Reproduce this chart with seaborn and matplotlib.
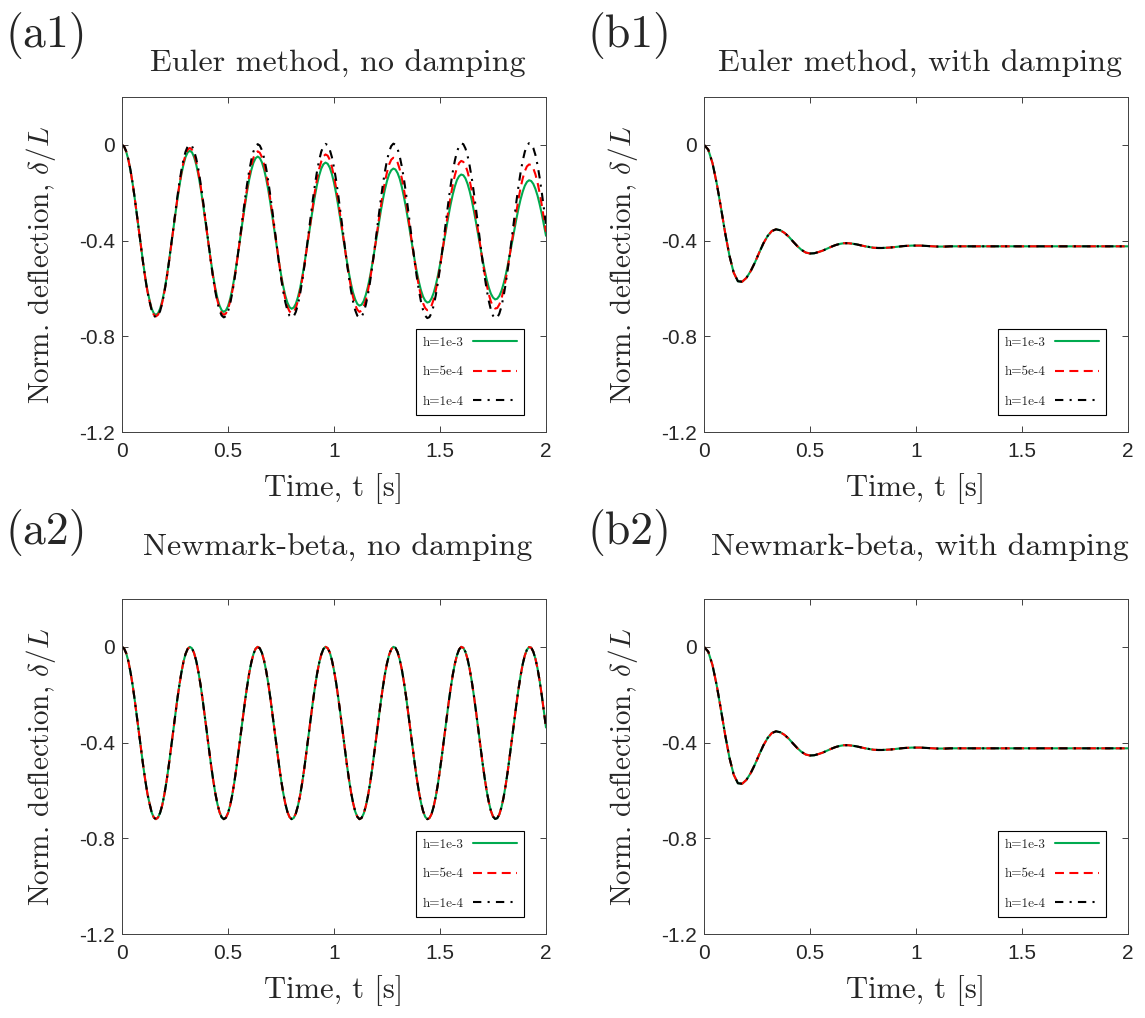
import numpy as np
import pandas as pd
import matplotlib
matplotlib.use("Agg")
import matplotlib.pyplot as plt
import seaborn as sns

# ---------------- data ----------------
time_fine = np.linspace(0.0, 2.0, 201)     # 0.01 s sampling for the oscillating runs
time_coarse = np.linspace(0.0, 2.0, 101)   # 0.02 s sampling for the damped runs

series_labels = ["h=1e-3", "h=5e-4", "h=1e-4"]
series_colors = ["#00AA4F", "#FF0000", "#000000"]

# Euler method, no damping
euler_h1e3 = [0.000, -0.008, -0.029, -0.062, -0.107, -0.161, -0.223, -0.290, -0.359, -0.428,
              -0.495, -0.555, -0.609, -0.649, -0.685, -0.704, -0.711, -0.704, -0.684, -0.652,
              -0.609, -0.557, -0.497, -0.433, -0.366, -0.299, -0.235, -0.176, -0.124, -0.082,
              -0.050, -0.031, -0.025, -0.031, -0.051, -0.082, -0.124, -0.175, -0.233, -0.296,
              -0.362, -0.427, -0.490, -0.548, -0.599, -0.641, -0.672, -0.691, -0.698, -0.692,
              -0.674, -0.644, -0.604, -0.555, -0.499, -0.438, -0.375, -0.311, -0.251, -0.194,
              -0.145, -0.105, -0.075, -0.056, -0.049, -0.055, -0.073, -0.102, -0.141, -0.189,
              -0.244, -0.303, -0.365, -0.427, -0.486, -0.541, -0.589, -0.629, -0.659, -0.678,
              -0.685, -0.680, -0.664, -0.636, -0.599, -0.553, -0.500, -0.443, -0.383, -0.324,
              -0.266, -0.213, -0.166, -0.128, -0.099, -0.081, -0.074, -0.079, -0.095, -0.122,
              -0.158, -0.203, -0.254, -0.310, -0.368, -0.426, -0.482, -0.534, -0.580, -0.618,
              -0.646, -0.665, -0.672, -0.668, -0.653, -0.627, -0.593, -0.550, -0.501, -0.447,
              -0.392, -0.335, -0.281, -0.231, -0.187, -0.151, -0.123, -0.106, -0.099, -0.103,
              -0.118, -0.142, -0.176, -0.218, -0.265, -0.317, -0.372, -0.426, -0.479, -0.528,
              -0.571, -0.607, -0.634, -0.651, -0.659, -0.656, -0.642, -0.619, -0.587, -0.547,
              -0.501, -0.451, -0.399, -0.347, -0.296, -0.249, -0.208, -0.174, -0.147, -0.131,
              -0.124, -0.127, -0.140, -0.163, -0.194, -0.232, -0.277, -0.325, -0.376, -0.427,
              -0.476, -0.522, -0.562, -0.596, -0.622, -0.638, -0.646, -0.643, -0.631, -0.610,
              -0.580, -0.544, -0.501, -0.455, -0.407, -0.358, -0.311, -0.267, -0.228, -0.196,
              -0.171, -0.155, -0.148, -0.151, -0.163, -0.184, -0.212, -0.248, -0.288, -0.333,
              -0.380]

euler_h5e4 = [0.000, -0.007, -0.028, -0.062, -0.106, -0.161, -0.223, -0.290, -0.360, -0.430,
              -0.497, -0.558, -0.613, -0.653, -0.690, -0.710, -0.717, -0.710, -0.690, -0.658,
              -0.614, -0.561, -0.500, -0.434, -0.366, -0.297, -0.231, -0.170, -0.117, -0.073,
              -0.041, -0.020, -0.013, -0.020, -0.040, -0.071, -0.115, -0.167, -0.227, -0.292,
              -0.360, -0.428, -0.493, -0.554, -0.606, -0.650, -0.683, -0.703, -0.710, -0.705,
              -0.686, -0.655, -0.613, -0.562, -0.502, -0.439, -0.372, -0.306, -0.241, -0.182,
              -0.130, -0.087, -0.054, -0.034, -0.027, -0.033, -0.051, -0.081, -0.123, -0.173,
              -0.231, -0.295, -0.360, -0.426, -0.490, -0.549, -0.600, -0.643, -0.676, -0.696,
              -0.704, -0.699, -0.681, -0.652, -0.611, -0.562, -0.506, -0.443, -0.379, -0.314,
              -0.252, -0.194, -0.143, -0.100, -0.069, -0.048, -0.040, -0.045, -0.062, -0.092,
              -0.132, -0.180, -0.236, -0.297, -0.360, -0.425, -0.487, -0.544, -0.595, -0.637,
              -0.669, -0.689, -0.698, -0.693, -0.676, -0.649, -0.610, -0.563, -0.508, -0.448,
              -0.386, -0.322, -0.262, -0.205, -0.155, -0.114, -0.082, -0.062, -0.054, -0.058,
              -0.074, -0.102, -0.140, -0.187, -0.240, -0.300, -0.362, -0.424, -0.484, -0.540,
              -0.589, -0.631, -0.662, -0.682, -0.691, -0.688, -0.672, -0.646, -0.608, -0.563,
              -0.510, -0.452, -0.392, -0.331, -0.271, -0.217, -0.168, -0.127, -0.097, -0.076,
              -0.067, -0.071, -0.086, -0.112, -0.149, -0.193, -0.245, -0.302, -0.362, -0.423,
              -0.481, -0.535, -0.584, -0.624, -0.655, -0.675, -0.684, -0.682, -0.667, -0.642,
              -0.607, -0.563, -0.512, -0.456, -0.398, -0.339, -0.281, -0.228, -0.180, -0.141,
              -0.110, -0.090, -0.082, -0.084, -0.098, -0.123, -0.157, -0.201, -0.251, -0.306,
              -0.363]

euler_h1e4 = [0.000, -0.007, -0.027, -0.060, -0.105, -0.159, -0.222, -0.289, -0.359, -0.429,
              -0.497, -0.559, -0.614, -0.655, -0.692, -0.713, -0.721, -0.714, -0.694, -0.661,
              -0.616, -0.562, -0.500, -0.433, -0.363, -0.292, -0.224, -0.162, -0.107, -0.061,
              -0.028, -0.006, 0.001, -0.005, -0.025, -0.057, -0.101, -0.156, -0.218, -0.285,
              -0.355, -0.426, -0.494, -0.557, -0.612, -0.658, -0.692, -0.713, -0.721, -0.716,
              -0.696, -0.664, -0.620, -0.566, -0.504, -0.436, -0.366, -0.296, -0.227, -0.164,
              -0.108, -0.063, -0.028, -0.006, 0.003, -0.003, -0.022, -0.054, -0.098, -0.152,
              -0.214, -0.281, -0.352, -0.422, -0.491, -0.554, -0.610, -0.656, -0.691, -0.714,
              -0.722, -0.717, -0.698, -0.667, -0.623, -0.569, -0.508, -0.440, -0.370, -0.299,
              -0.230, -0.167, -0.110, -0.064, -0.028, -0.006, 0.004, -0.001, -0.020, -0.051,
              -0.095, -0.148, -0.210, -0.277, -0.347, -0.419, -0.488, -0.551, -0.608, -0.655,
              -0.691, -0.714, -0.723, -0.719, -0.700, -0.669, -0.626, -0.573, -0.511, -0.444,
              -0.373, -0.302, -0.233, -0.169, -0.112, -0.065, -0.028, -0.005, 0.005, 0.001,
              -0.017, -0.048, -0.091, -0.144, -0.205, -0.273, -0.344, -0.415, -0.484, -0.549,
              -0.606, -0.654, -0.690, -0.714, -0.724, -0.720, -0.703, -0.672, -0.629, -0.576,
              -0.515, -0.447, -0.377, -0.305, -0.236, -0.171, -0.114, -0.066, -0.029, -0.005,
              0.006, 0.003, -0.015, -0.045, -0.088, -0.140, -0.202, -0.269, -0.340, -0.411,
              -0.481, -0.546, -0.604, -0.652, -0.689, -0.714, -0.725, -0.722, -0.705, -0.675,
              -0.632, -0.580, -0.518, -0.451, -0.380, -0.309, -0.239, -0.174, -0.116, -0.067,
              -0.029, -0.004, 0.007, 0.004, -0.013, -0.042, -0.084, -0.137, -0.198, -0.265,
              -0.336]

# Newmark-beta, no damping: the three step sizes coincide
newmark_values = [0.000, -0.007, -0.027, -0.060, -0.105, -0.159, -0.222, -0.289, -0.359, -0.429,
                  -0.497, -0.559, -0.614, -0.655, -0.692, -0.713, -0.720, -0.713, -0.693, -0.661,
                  -0.616, -0.562, -0.500, -0.433, -0.363, -0.293, -0.225, -0.163, -0.108, -0.062,
                  -0.029, -0.008, 0.000, -0.006, -0.026, -0.058, -0.103, -0.156, -0.218, -0.285,
                  -0.355, -0.426, -0.493, -0.556, -0.611, -0.656, -0.691, -0.712, -0.720, -0.714,
                  -0.695, -0.663, -0.619, -0.565, -0.503, -0.436, -0.366, -0.296, -0.228, -0.166,
                  -0.110, -0.065, -0.030, -0.008, 0.000, -0.006, -0.025, -0.057, -0.100, -0.153,
                  -0.215, -0.282, -0.352, -0.422, -0.490, -0.553, -0.608, -0.654, -0.689, -0.711,
                  -0.720, -0.715, -0.696, -0.664, -0.621, -0.568, -0.507, -0.440, -0.370, -0.300,
                  -0.232, -0.169, -0.113, -0.067, -0.032, -0.009, 0.000, -0.005, -0.023, -0.055,
                  -0.098, -0.150, -0.212, -0.278, -0.348, -0.419, -0.487, -0.550, -0.606, -0.652,
                  -0.688, -0.710, -0.720, -0.715, -0.697, -0.666, -0.624, -0.571, -0.510, -0.443,
                  -0.374, -0.303, -0.235, -0.172, -0.115, -0.069, -0.033, -0.010, 0.000, -0.004,
                  -0.022, -0.053, -0.095, -0.148, -0.208, -0.275, -0.345, -0.415, -0.483, -0.547,
                  -0.603, -0.650, -0.686, -0.710, -0.720, -0.716, -0.699, -0.668, -0.626, -0.574,
                  -0.513, -0.447, -0.377, -0.307, -0.238, -0.175, -0.118, -0.071, -0.035, -0.011,
                  0.000, -0.004, -0.021, -0.051, -0.093, -0.145, -0.205, -0.271, -0.341, -0.411,
                  -0.480, -0.544, -0.601, -0.648, -0.685, -0.709, -0.719, -0.716, -0.700, -0.670,
                  -0.629, -0.577, -0.517, -0.450, -0.381, -0.310, -0.242, -0.178, -0.121, -0.073,
                  -0.036, -0.012, -0.001, -0.003, -0.020, -0.049, -0.090, -0.142, -0.202, -0.268,
                  -0.337]

# With damping: all methods / step sizes coincide
damped_values = [0.000, -0.020, -0.076, -0.161, -0.263, -0.369, -0.463, -0.534, -0.570, -0.572,
                 -0.556, -0.528, -0.492, -0.451, -0.412, -0.381, -0.360, -0.353, -0.357, -0.368,
                 -0.384, -0.404, -0.423, -0.439, -0.450, -0.454, -0.453, -0.448, -0.442, -0.434,
                 -0.426, -0.419, -0.414, -0.411, -0.411, -0.413, -0.416, -0.420, -0.424, -0.427,
                 -0.430, -0.431, -0.431, -0.430, -0.429, -0.427, -0.425, -0.423, -0.422, -0.421,
                 -0.421, -0.421, -0.422, -0.423, -0.424, -0.425, -0.425, -0.425, -0.424, -0.424,
                 -0.424, -0.424, -0.424, -0.424, -0.424, -0.424, -0.424, -0.424, -0.424, -0.424,
                 -0.424, -0.424, -0.424, -0.424, -0.424, -0.424, -0.424, -0.424, -0.424, -0.424,
                 -0.424, -0.424, -0.424, -0.424, -0.424, -0.424, -0.424, -0.424, -0.424, -0.424,
                 -0.424, -0.424, -0.424, -0.424, -0.424, -0.424, -0.424, -0.424, -0.424, -0.424,
                 -0.424]

panel_tags = ["(a1)", "(b1)", "(a2)", "(b2)"]
panel_titles = ["Euler method, no damping", "Euler method, with damping",
                "Newmark-beta, no damping", "Newmark-beta, with damping"]
panel_times = [time_fine, time_coarse, time_fine, time_coarse]
panel_series = [[euler_h1e3, euler_h5e4, euler_h1e4],
                [damped_values, damped_values, damped_values],
                [newmark_values, newmark_values, newmark_values],
                [damped_values, damped_values, damped_values]]

x_ticks = [0, 0.5, 1, 1.5, 2]
x_tick_labels = ["0", "0.5", "1", "1.5", "2"]
y_ticks = [0, -0.4, -0.8, -1.2]
y_tick_labels = ["0", "-0.4", "-0.8", "-1.2"]

# ---------------- style ----------------
sns.set_theme(style="white")
plt.rcParams.update({
    "font.family": ["cmr10", "DejaVu Serif"],
    "mathtext.fontset": "cm",
    "axes.unicode_minus": False,
    "axes.formatter.use_mathtext": True,
})

W, H = 1145, 1018
fig = plt.figure(figsize=(W / 100, H / 100), dpi=100)
fig.patch.set_facecolor("white")

def fx(px):
    return px / W

def fy(py):
    return 1 - py / H

ax_w, ax_h = 424, 335
lefts = [122, 704]
tops = [97, 599]
tag_base = [47, 544]
title_base = [72, 556]

dash_map = {"h=1e-3": "", "h=5e-4": (4.3, 2.6), "h=1e-4": (4.0, 3.0, 1.0, 3.0)}
frame_col = "#404040"
tick_col = "#262626"

for i in range(4):
    r, c = divmod(i, 2)
    L, T = lefts[c], tops[r]
    ax = fig.add_axes([fx(L), fy(T + ax_h), ax_w / W, ax_h / H])

    frames = []
    for lab, vals in zip(series_labels, panel_series[i]):
        frames.append(pd.DataFrame({"t": panel_times[i], "y": vals, "series": lab}))
    df = pd.concat(frames, ignore_index=True)

    sns.lineplot(data=df, x="t", y="y", hue="series", style="series",
                 hue_order=series_labels, style_order=series_labels,
                 palette=dict(zip(series_labels, series_colors)),
                 dashes=dash_map, estimator=None, sort=False,
                 linewidth=1.5, ax=ax, legend=True)
    for ln in ax.lines:
        ln.set_solid_joinstyle("round")
        ln.set_dash_joinstyle("round")

    handles, labels = ax.get_legend_handles_labels()
    hl = [(h, l) for h, l in zip(handles, labels) if l in series_labels]
    leg = ax.legend([h for h, _ in hl], [l for _, l in hl],
                    loc="lower right", bbox_to_anchor=(0.948, 0.051),
                    borderaxespad=0, markerfirst=False, frameon=True,
                    fancybox=False, framealpha=1, edgecolor="black",
                    prop={"family": ["cmr10", "DejaVu Serif"], "size": 9.5},
                    handlelength=3.3, handletextpad=0.7, labelspacing=1.3,
                    borderpad=0.55)
    leg.get_frame().set_linewidth(0.8)
    for ln in leg.get_lines():
        ln.set_linewidth(1.5)

    ax.set_xlim(0, 2)
    ax.set_ylim(-1.2, 0.2)
    ax.set_xticks(x_ticks)
    ax.set_xticklabels(x_tick_labels, fontfamily="Liberation Sans", fontsize=15, color=tick_col)
    ax.set_yticks(y_ticks)
    ax.set_yticklabels(y_tick_labels, fontfamily="Liberation Sans", fontsize=15, color=tick_col)
    ax.tick_params(axis="x", pad=7)
    ax.tick_params(axis="y", pad=5)
    ax.tick_params(direction="in", length=4, width=0.7, color=frame_col,
                   top=True, right=True, bottom=True, left=True)
    for sp in ax.spines.values():
        sp.set_visible(True)
        sp.set_color(frame_col)
        sp.set_linewidth(0.7)
    ax.set_facecolor("white")
    ax.grid(False)

    ax.set_xlabel("Time, t [s]", fontsize=22, labelpad=9)
    ax.set_ylabel("Norm. deflection, $\\delta/L$", fontsize=21)
    ax.yaxis.set_label_coords(-0.15, 0.5)

    fig.text(fx(L + ax_w / 2 + 4), fy(title_base[r]), panel_titles[i],
             ha="center", va="baseline", fontsize=23)
    fig.text(fx(L - 117), fy(tag_base[r]), panel_tags[i],
             ha="left", va="baseline", fontsize=33)

fig.savefig("out.png", dpi=100, facecolor="white")
